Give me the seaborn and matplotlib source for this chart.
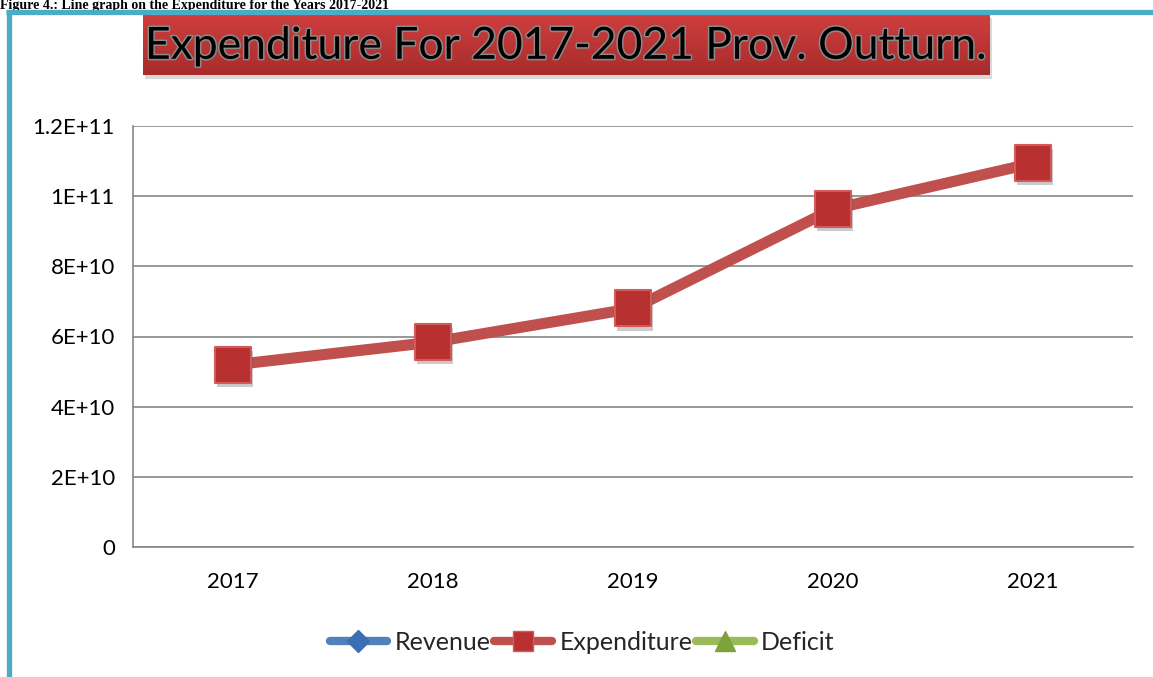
import numpy as np
import pandas as pd
import matplotlib
matplotlib.use("Agg")
import matplotlib.pyplot as plt
import matplotlib.patheffects as pe
from matplotlib.lines import Line2D
from matplotlib.patches import Rectangle
import seaborn as sns

# ---- data ----
years = ["2017", "2018", "2019", "2020", "2021"]
expenditure = [5.19e10, 5.84e10, 6.80e10, 9.63e10, 1.094e11]
y_ticks = [0, 2e10, 4e10, 6e10, 8e10, 1e11, 1.2e11]
y_tick_labels = ["0", "2E+10", "4E+10", "6E+10", "8E+10", "1E+11", "1.2E+11"]
legend_labels = ["Revenue", "Expenditure", "Deficit"]
title_text = "Expenditure For 2017-2021 Prov. Outturn."
caption_text = "Figure 4.: Line graph on the Expenditure for the Years 2017-2021"

sns.set_theme(style="white")
plt.rcParams["font.family"] = ["Lato", "DejaVu Sans"]

W, H = 1153, 677
fig = plt.figure(figsize=(W / 100, H / 100), dpi=100)
fig.patch.set_facecolor("white")

def fx(px):
    return px / W

def fy(py):
    return 1 - py / H

# plot area
ax = fig.add_axes([fx(133), fy(547), fx(1133) - fx(133), fy(126) - fy(547)])
df = pd.DataFrame({"Year": years, "Expenditure": expenditure})

sns.lineplot(data=df, x="Year", y="Expenditure", ax=ax, color="#C0504D",
             linewidth=8, zorder=3, sort=False)
sns.scatterplot(data=df, x="Year", y="Expenditure", ax=ax, marker="s", s=26 ** 2,
                color="#B83030", edgecolor="#D45A5A", linewidth=1.5, zorder=4,
                path_effects=[pe.SimplePatchShadow(offset=(1.5, -3), shadow_rgbFace="#555555", alpha=0.3),
                              pe.Normal()])

ax.set_xlim(-0.5, 4.5)
ax.set_ylim(0, 1.2e11)
ax.set_yticks(y_ticks)
ax.set_yticklabels(y_tick_labels)
ax.set_xlabel("")
ax.set_ylabel("")
ax.tick_params(axis="both", length=0, labelsize=16, colors="black")
ax.tick_params(axis="y", pad=13)
ax.tick_params(axis="x", pad=18)
ax.grid(axis="y", color="#868686", linewidth=1.2)
ax.grid(axis="x", visible=False)
ax.set_axisbelow(True)
for s in ["top", "right"]:
    ax.spines[s].set_visible(False)
for s in ["left", "bottom"]:
    ax.spines[s].set_color("#868686")
    ax.spines[s].set_linewidth(1.2)
if ax.legend_ is not None:
    ax.legend_.remove()

# legend
handles = [
    Line2D([], [], color="#4F81BD", linewidth=6, marker="D", markersize=11,
           markerfacecolor="#3A6EB5", markeredgecolor="#3A6EB5", solid_capstyle="round"),
    Line2D([], [], color="#C0504D", linewidth=6, marker="s", markersize=14,
           markerfacecolor="#B83030", markeredgecolor="#D45A5A", solid_capstyle="round"),
    Line2D([], [], color="#9BBB59", linewidth=6, marker="^", markersize=14,
           markerfacecolor="#7EA33A", markeredgecolor="#7EA33A", solid_capstyle="round"),
]
fig.legend(handles, legend_labels, loc="center", bbox_to_anchor=(fx(582), fy(642)),
           ncol=3, frameon=False, fontsize=18, handlelength=2.3, handletextpad=0.3,
           columnspacing=0.15)

# title box with shadow and gradient
fig.patches.append(Rectangle((fx(145), fy(79)), fx(990) - fx(143), fy(14) - fy(75),
                             transform=fig.transFigure, facecolor="#000000", alpha=0.15,
                             edgecolor="none", zorder=1))
tax = fig.add_axes([fx(143), fy(75), fx(990) - fx(143), fy(14) - fy(75)], zorder=2)
top_c = np.array(matplotlib.colors.to_rgb("#CF3E3E"))
bot_c = np.array(matplotlib.colors.to_rgb("#A82C2C"))
t = np.linspace(0, 1, 64)[:, None, None]
grad = top_c * (1 - t) + bot_c * t
grad = np.repeat(grad, 2, axis=1)
tax.imshow(grad, aspect="auto", extent=(0, 1, 0, 1))
tax.set_axis_off()
tax.text(0.5, 0.47, title_text, ha="center", va="center", fontsize=32, color="black",
         transform=tax.transAxes,
         path_effects=[pe.withStroke(linewidth=2.2, foreground="#8A8A8A")])

# blue frame
fig.add_artist(Line2D([fx(6), fx(1153)], [fy(11.5), fy(11.5)], color="#4BACC6",
                      linewidth=3.8, transform=fig.transFigure, solid_capstyle="butt", zorder=5))
fig.add_artist(Line2D([fx(8.5), fx(8.5)], [fy(9.5), fy(677)], color="#4BACC6",
                      linewidth=3.8, transform=fig.transFigure, solid_capstyle="butt", zorder=5))

# caption at the very top
fig.text(0.0, fy(9.5), caption_text, ha="left", va="baseline", fontsize=10,
         fontweight="bold", family=["Liberation Serif", "DejaVu Serif"], color="black")

fig.savefig("out.png", dpi=100, facecolor="white")
